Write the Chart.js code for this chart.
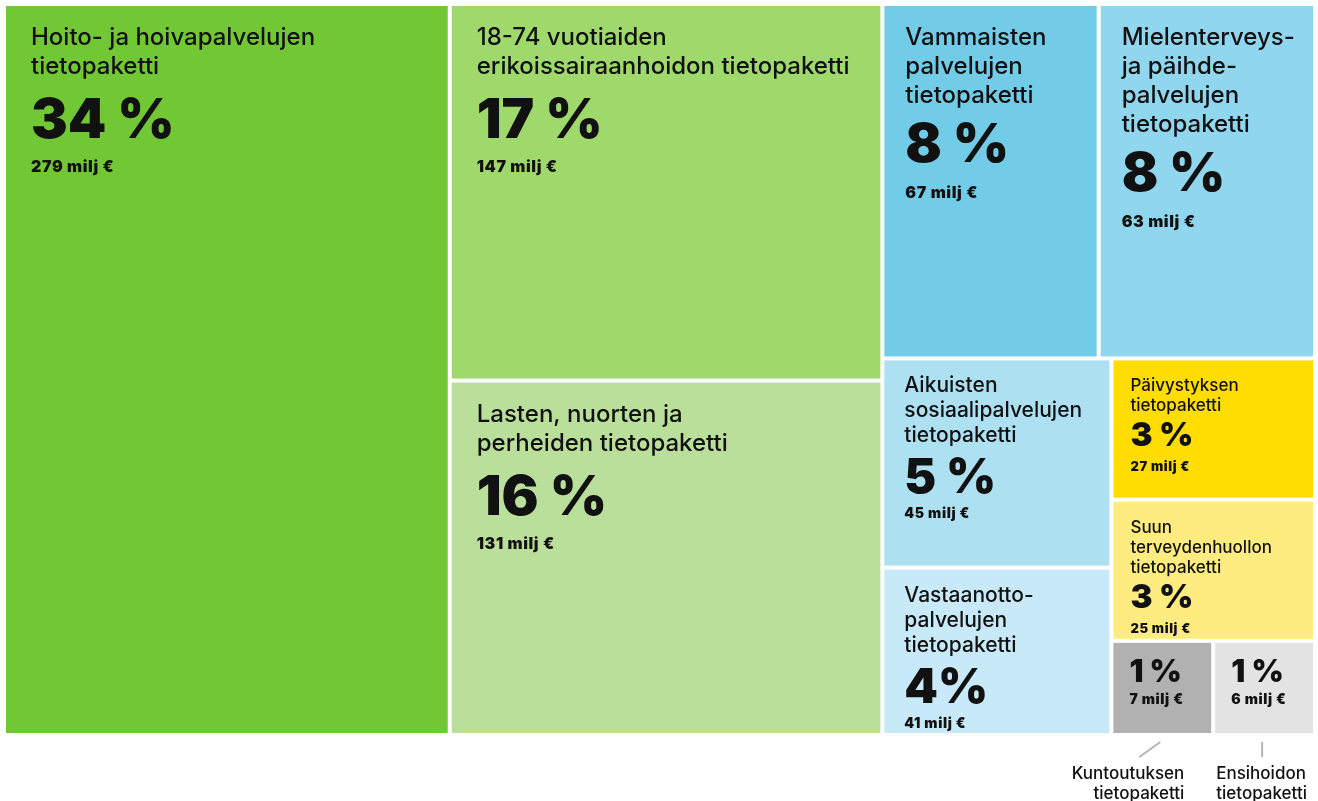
<!DOCTYPE html>
<html>
<head>
<meta charset="utf-8">
<script src="https://cdn.jsdelivr.net/npm/chart.js@4.4.1/dist/chart.umd.min.js"></script>
<style>
  html, body { margin: 0; background: #fff; }
  canvas { display: block; }
</style>
</head>
<body>
<canvas id="treeChart" width="1318" height="801"></canvas>
<script>
// Treemap data
const labels = [
  "Hoito- ja hoivapalvelujen\ntietopaketti",
  "18-74 vuotiaiden\nerikoissairaanhoidon tietopaketti",
  "Lasten, nuorten ja\nperheiden tietopaketti",
  "Vammaisten\npalvelujen\ntietopaketti",
  "Mielenterveys-\nja päihde-\npalvelujen\ntietopaketti",
  "Aikuisten\nsosiaalipalvelujen\ntietopaketti",
  "Vastaanotto-\npalvelujen\ntietopaketti",
  "Päivystyksen\ntietopaketti",
  "Suun\nterveydenhuollon\ntietopaketti",
  "Kuntoutuksen\ntietopaketti",
  "Ensihoidon\ntietopaketti"
];
const shares = [34, 17, 16, 8, 8, 5, 4, 3, 3, 1, 1];
const millions = [279, 147, 131, 67, 63, 45, 41, 27, 25, 7, 6];
const colors = ["#72c834", "#9fd96b", "#badf9a", "#72cce8", "#90d6ef", "#ade0f1",
                "#c8e9f7", "#ffdd00", "#ffec80", "#b1b1b1", "#e3e3e3"];
// nesting of the tiles: 'h' = side by side, 'v' = stacked
const groups = ['h', [0, ['v', [1, 2]], ['v', [['h', [3, 4]], ['h', [['v', [5, 6]], ['v', [7, 8, ['h', [9, 10]]]]]]]]]];

function sumOf(node) {
  if (typeof node === 'number') return shares[node];
  return node[1].reduce((s, c) => s + sumOf(c), 0);
}

function layout(node, x0, y0, x1, y1, out) {
  if (typeof node === 'number') { out[node] = { x0, y0, x1, y1 }; return out; }
  const total = sumOf(node);
  let pos = node[0] === 'h' ? x0 : y0;
  node[1].forEach(c => {
    const f = sumOf(c) / total;
    if (node[0] === 'h') {
      const w = (x1 - x0) * f;
      layout(c, pos, y0, pos + w, y1, out);
      pos += w;
    } else {
      const h = (y1 - y0) * f;
      layout(c, x0, pos, x1, pos + h, out);
      pos += h;
    }
  });
  return out;
}

const tiles = layout(groups, 0, 0, 1, 1, []);

function styleFor(v) {
  if (v >= 15) return { label: 24, lh: 29, first: 39, pct: 55, pctGap: 64, sub: 16, subGap: 34, pad: 25 };
  if (v >= 6) return { label: 24, lh: 29, first: 39, pct: 54, pctGap: 59, sub: 16, subGap: 36, pad: 21 };
  if (v >= 4) return { label: 21, lh: 25, first: 32, pct: 48, pctGap: 51, sub: 14, subGap: 25, pad: 20 };
  if (v >= 2) return { label: 17, lh: 20, first: 31, pct: 33, pctGap: 35, sub: 13, subGap: 25, pad: 17 };
  return { label: 17, lh: 20, first: 0, pct: 31, pctGap: 39, sub: 14, subGap: 22, pad: 16, outside: true };
}

const treemapPlugin = {
  id: 'treemapTiles',
  afterDatasetsDraw(chart) {
    const ctx = chart.ctx;
    const xs = chart.scales.x, ys = chart.scales.y;
    const gap = 2;
    tiles.forEach((t, i) => {
      const left = xs.getPixelForValue(t.x0) + gap;
      const right = xs.getPixelForValue(t.x1) - gap;
      const top = ys.getPixelForValue(t.y0) + gap;
      const bottom = ys.getPixelForValue(t.y1) - gap;
      ctx.save();
      ctx.fillStyle = colors[i];
      ctx.fillRect(left, top, right - left, bottom - top);

      const st = styleFor(shares[i]);
      const tx = left + st.pad;
      ctx.fillStyle = '#111';
      ctx.textAlign = 'left';
      ctx.textBaseline = 'alphabetic';
      let y = top + st.first;
      const lines = labels[i].split('\n');
      if (!st.outside) {
        ctx.font = '500 ' + st.label + 'px Inter';
        lines.forEach((ln, k) => ctx.fillText(ln, tx, y + k * st.lh));
        y += (lines.length - 1) * st.lh;
      }
      y += st.pctGap;
      ctx.font = '900 ' + st.pct + 'px Inter';
      // the 4 % tile is written without a space in the original
      ctx.fillText(shares[i] + (shares[i] === 4 ? '%' : ' %'), tx, y);
      y += st.subGap;
      ctx.font = '900 ' + st.sub + 'px Inter';
      ctx.letterSpacing = '0.6px';
      ctx.fillText(millions[i] + ' milj €', tx, y);
      ctx.letterSpacing = '0px';

      if (st.outside) {
        // call-out label under the small tile
        const cx = (left + right) / 2;
        ctx.strokeStyle = '#b5b5b5';
        ctx.lineWidth = 2;
        ctx.beginPath();
        ctx.font = '500 ' + st.label + 'px Inter';
        if (right < chart.width - 10) {
          ctx.moveTo(cx - 2, bottom + 9);
          ctx.lineTo(cx - 23, bottom + 24);
          ctx.stroke();
          ctx.textAlign = 'right';
          lines.forEach((ln, k) => ctx.fillText(ln, cx + 22, bottom + 46 + k * 20));
        } else {
          ctx.moveTo(cx - 2, bottom + 9);
          ctx.lineTo(cx - 2, bottom + 24);
          ctx.stroke();
          ctx.textAlign = 'left';
          lines.forEach((ln, k) => ctx.fillText(ln, left + 1, bottom + 46 + k * 20));
        }
      }
      ctx.restore();
    });
  }
};

const ctx = document.getElementById('treeChart').getContext('2d');
const treeChart = new Chart(ctx, {
  type: 'scatter',
  data: {
    datasets: [{
      data: tiles.map(t => ({ x: (t.x0 + t.x1) / 2, y: (t.y0 + t.y1) / 2 })),
      pointRadius: 0
    }]
  },
  options: {
    responsive: false,
    animation: false,
    layout: { padding: { left: 4, right: 3, top: 4, bottom: 66 } },
    plugins: {
      legend: { display: false },
      tooltip: { enabled: false }
    },
    scales: {
      x: { type: 'linear', min: 0, max: 1, display: false },
      y: { type: 'linear', min: 0, max: 1, reverse: true, display: false }
    }
  },
  plugins: [treemapPlugin]
});
</script>
</body>
</html>
